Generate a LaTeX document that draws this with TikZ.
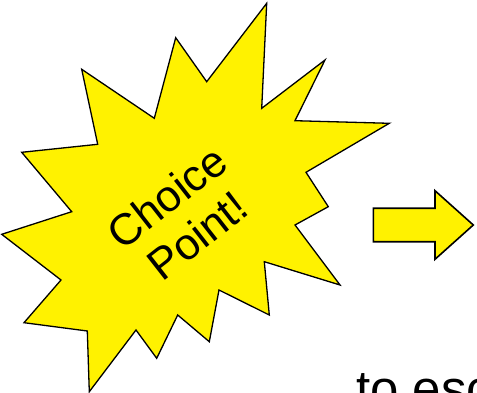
\documentclass[tikz,border=0pt]{standalone}
\usepackage{fontspec}
\setmainfont{Liberation Sans}
\begin{document}
\begin{tikzpicture}[x=1pt,y=-1pt,
  burst/.style={fill=yellow,draw=black,line width=1.3pt,line join=miter},
  bigarrow/.style={fill=yellow,draw=black,line width=1.6pt,line join=miter},
  bursttext/.style={font=\fontsize{44}{49}\selectfont,align=center,rotate=38,inner sep=0pt},
  bottomtext/.style={font=\fontsize{51}{56}\selectfont,anchor=base west,inner sep=0pt}]
\useasboundingbox (0,0) rectangle (477,393);
\clip (0,0) rectangle (477,393);
\draw[burst] (266.7,3.3) -- (261.7,108.3) -- (325,60) -- (295,120.7) -- (389.3,123.3)
  -- (306,172.3) -- (328.3,206.7) -- (295,225) -- (340,285) -- (264.3,261.7)
  -- (269.3,315) -- (219,290) -- (209.3,341.7) -- (177.7,315) -- (156.7,358.3)
  -- (136,330) -- (89.3,391.7) -- (87.3,331) -- (24,322.7) -- (61,280)
  -- (1.7,234.3) -- (71.7,211.7) -- (21.7,152.3) -- (97.7,144.3) -- (81.7,69.3)
  -- (154.3,118.3) -- (175.7,37.7) -- (206.7,81.7) -- cycle;
\node[bursttext] (label) at (182,216) {Choice\\Point!};
\draw[bigarrow] (373.3,208.3) -- (435,208.3) -- (435,190.7) -- (473.3,225)
  -- (435,259.3) -- (435,241.7) -- (373.3,241.7) -- cycle;
\node[bottomtext] (caption) at (356,406) {to escape};
\end{tikzpicture}
\end{document}
